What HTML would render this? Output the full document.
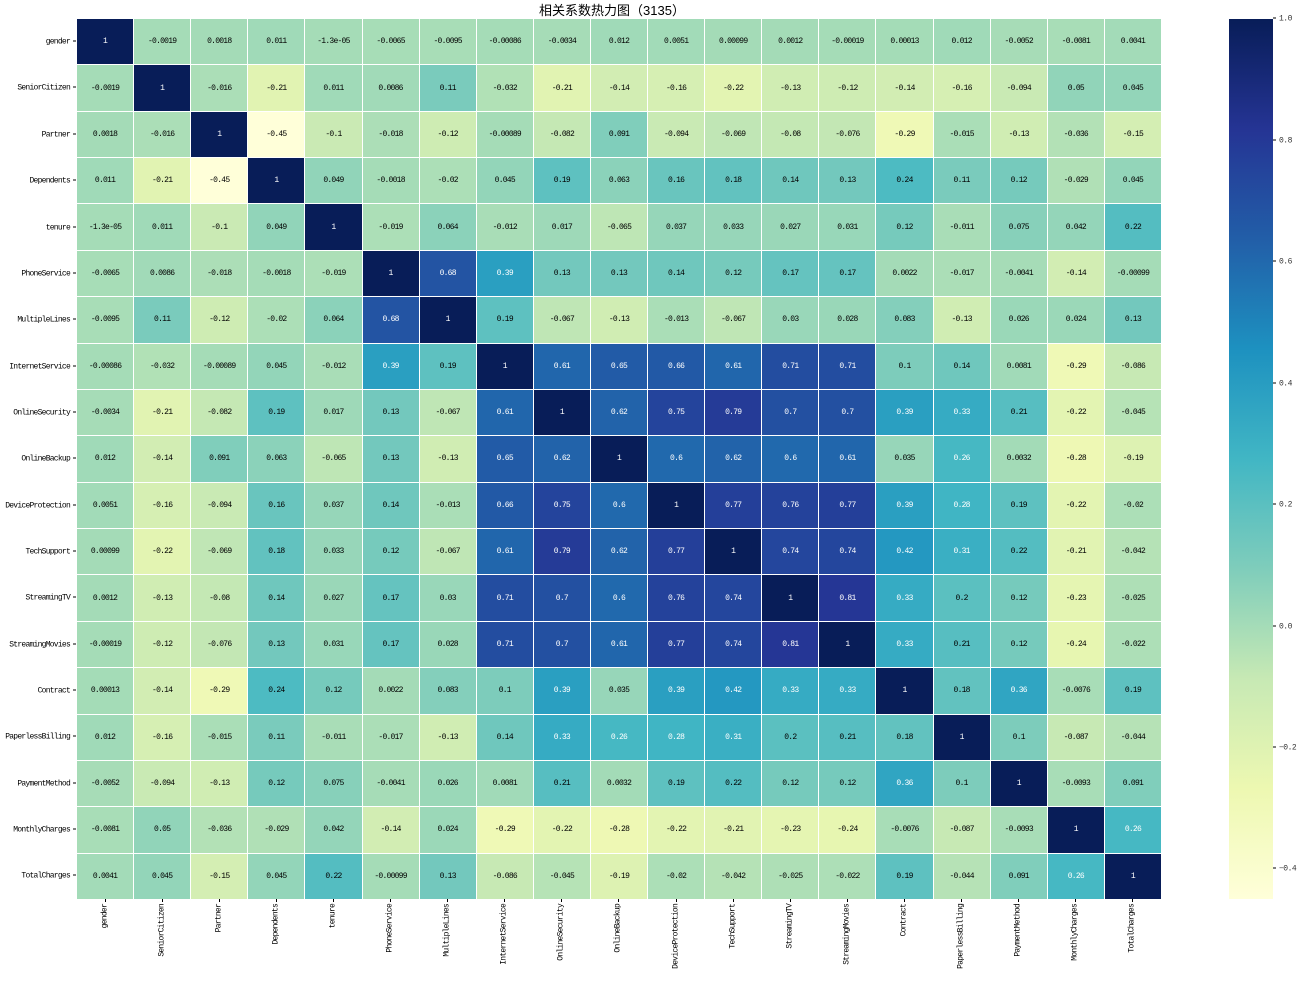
<!DOCTYPE html>
<html><head><meta charset="utf-8"><style>
body{margin:0;width:1306px;height:981px;background:#fff;position:relative;overflow:hidden;font-family:"Liberation Mono","DejaVu Sans Mono",monospace;}
#title{position:absolute;left:0;width:1224px;top:0px;text-align:center;font:13px "Liberation Sans","Noto Sans CJK SC",sans-serif;color:#000;}
#grid{position:absolute;left:77px;top:19px;width:1084px;height:880px;display:grid;grid-template-columns:repeat(19,1fr);grid-template-rows:repeat(19,1fr);gap:1px;background:#fff;}
#grid i{font-style:normal;font-size:8px;letter-spacing:-0.75px;display:flex;align-items:center;justify-content:center;}
.yl{position:absolute;right:1230px;font-size:8px;letter-spacing:-0.75px;text-align:right;white-space:nowrap;transform:translateY(-50%);}
.yl:after{content:"";display:inline-block;width:3px;height:1px;background:#000;margin-left:3px;vertical-align:middle;}
.xl{position:absolute;top:904px;font-size:8px;letter-spacing:-0.75px;white-space:nowrap;transform-origin:0 0;transform:rotate(-90deg) translate(-100%,-50%);}
.xt{position:absolute;top:899px;width:1px;height:3px;background:#000;}
#cb{position:absolute;left:1229px;top:19px;width:44px;height:880px;background:linear-gradient(to top,#ffffd9 0%,#edf8b1 12.5%,#c7e9b4 25%,#7fcdbb 37.5%,#41b6c4 50%,#1d91c0 62.5%,#225ea8 75%,#253494 87.5%,#081d58 100%);}
.ct{position:absolute;left:1273px;font-size:8px;letter-spacing:-0.5px;transform:translateY(-50%);white-space:nowrap;color:#333;}
.ct:before{content:"";display:inline-block;width:3px;height:1px;background:#000;margin-right:3px;vertical-align:middle;}
</style></head><body>
<div id="title">相关系数热力图（3135）</div>
<div id="grid">
<i>1</i><i>-0.0019</i><i>0.0018</i><i>0.011</i><i>-1.3e-05</i><i>-0.0065</i><i>-0.0095</i><i>-0.00086</i><i>-0.0034</i><i>0.012</i><i>0.0051</i><i>0.00099</i><i>0.0012</i><i>-0.00019</i><i>0.00013</i><i>0.012</i><i>-0.0052</i><i>-0.0081</i><i>0.0041</i>
<i>-0.0019</i><i>1</i><i>-0.016</i><i>-0.21</i><i>0.011</i><i>0.0086</i><i>0.11</i><i>-0.032</i><i>-0.21</i><i>-0.14</i><i>-0.16</i><i>-0.22</i><i>-0.13</i><i>-0.12</i><i>-0.14</i><i>-0.16</i><i>-0.094</i><i>0.05</i><i>0.045</i>
<i>0.0018</i><i>-0.016</i><i>1</i><i>-0.45</i><i>-0.1</i><i>-0.018</i><i>-0.12</i><i>-0.00089</i><i>-0.082</i><i>0.091</i><i>-0.094</i><i>-0.069</i><i>-0.08</i><i>-0.076</i><i>-0.29</i><i>-0.015</i><i>-0.13</i><i>-0.036</i><i>-0.15</i>
<i>0.011</i><i>-0.21</i><i>-0.45</i><i>1</i><i>0.049</i><i>-0.0018</i><i>-0.02</i><i>0.045</i><i>0.19</i><i>0.063</i><i>0.16</i><i>0.18</i><i>0.14</i><i>0.13</i><i>0.24</i><i>0.11</i><i>0.12</i><i>-0.029</i><i>0.045</i>
<i>-1.3e-05</i><i>0.011</i><i>-0.1</i><i>0.049</i><i>1</i><i>-0.019</i><i>0.064</i><i>-0.012</i><i>0.017</i><i>-0.065</i><i>0.037</i><i>0.033</i><i>0.027</i><i>0.031</i><i>0.12</i><i>-0.011</i><i>0.075</i><i>0.042</i><i>0.22</i>
<i>-0.0065</i><i>0.0086</i><i>-0.018</i><i>-0.0018</i><i>-0.019</i><i>1</i><i>0.68</i><i>0.39</i><i>0.13</i><i>0.13</i><i>0.14</i><i>0.12</i><i>0.17</i><i>0.17</i><i>0.0022</i><i>-0.017</i><i>-0.0041</i><i>-0.14</i><i>-0.00099</i>
<i>-0.0095</i><i>0.11</i><i>-0.12</i><i>-0.02</i><i>0.064</i><i>0.68</i><i>1</i><i>0.19</i><i>-0.067</i><i>-0.13</i><i>-0.013</i><i>-0.067</i><i>0.03</i><i>0.028</i><i>0.083</i><i>-0.13</i><i>0.026</i><i>0.024</i><i>0.13</i>
<i>-0.00086</i><i>-0.032</i><i>-0.00089</i><i>0.045</i><i>-0.012</i><i>0.39</i><i>0.19</i><i>1</i><i>0.61</i><i>0.65</i><i>0.66</i><i>0.61</i><i>0.71</i><i>0.71</i><i>0.1</i><i>0.14</i><i>0.0081</i><i>-0.29</i><i>-0.086</i>
<i>-0.0034</i><i>-0.21</i><i>-0.082</i><i>0.19</i><i>0.017</i><i>0.13</i><i>-0.067</i><i>0.61</i><i>1</i><i>0.62</i><i>0.75</i><i>0.79</i><i>0.7</i><i>0.7</i><i>0.39</i><i>0.33</i><i>0.21</i><i>-0.22</i><i>-0.045</i>
<i>0.012</i><i>-0.14</i><i>0.091</i><i>0.063</i><i>-0.065</i><i>0.13</i><i>-0.13</i><i>0.65</i><i>0.62</i><i>1</i><i>0.6</i><i>0.62</i><i>0.6</i><i>0.61</i><i>0.035</i><i>0.26</i><i>0.0032</i><i>-0.28</i><i>-0.19</i>
<i>0.0051</i><i>-0.16</i><i>-0.094</i><i>0.16</i><i>0.037</i><i>0.14</i><i>-0.013</i><i>0.66</i><i>0.75</i><i>0.6</i><i>1</i><i>0.77</i><i>0.76</i><i>0.77</i><i>0.39</i><i>0.28</i><i>0.19</i><i>-0.22</i><i>-0.02</i>
<i>0.00099</i><i>-0.22</i><i>-0.069</i><i>0.18</i><i>0.033</i><i>0.12</i><i>-0.067</i><i>0.61</i><i>0.79</i><i>0.62</i><i>0.77</i><i>1</i><i>0.74</i><i>0.74</i><i>0.42</i><i>0.31</i><i>0.22</i><i>-0.21</i><i>-0.042</i>
<i>0.0012</i><i>-0.13</i><i>-0.08</i><i>0.14</i><i>0.027</i><i>0.17</i><i>0.03</i><i>0.71</i><i>0.7</i><i>0.6</i><i>0.76</i><i>0.74</i><i>1</i><i>0.81</i><i>0.33</i><i>0.2</i><i>0.12</i><i>-0.23</i><i>-0.025</i>
<i>-0.00019</i><i>-0.12</i><i>-0.076</i><i>0.13</i><i>0.031</i><i>0.17</i><i>0.028</i><i>0.71</i><i>0.7</i><i>0.61</i><i>0.77</i><i>0.74</i><i>0.81</i><i>1</i><i>0.33</i><i>0.21</i><i>0.12</i><i>-0.24</i><i>-0.022</i>
<i>0.00013</i><i>-0.14</i><i>-0.29</i><i>0.24</i><i>0.12</i><i>0.0022</i><i>0.083</i><i>0.1</i><i>0.39</i><i>0.035</i><i>0.39</i><i>0.42</i><i>0.33</i><i>0.33</i><i>1</i><i>0.18</i><i>0.36</i><i>-0.0076</i><i>0.19</i>
<i>0.012</i><i>-0.16</i><i>-0.015</i><i>0.11</i><i>-0.011</i><i>-0.017</i><i>-0.13</i><i>0.14</i><i>0.33</i><i>0.26</i><i>0.28</i><i>0.31</i><i>0.2</i><i>0.21</i><i>0.18</i><i>1</i><i>0.1</i><i>-0.087</i><i>-0.044</i>
<i>-0.0052</i><i>-0.094</i><i>-0.13</i><i>0.12</i><i>0.075</i><i>-0.0041</i><i>0.026</i><i>0.0081</i><i>0.21</i><i>0.0032</i><i>0.19</i><i>0.22</i><i>0.12</i><i>0.12</i><i>0.36</i><i>0.1</i><i>1</i><i>-0.0093</i><i>0.091</i>
<i>-0.0081</i><i>0.05</i><i>-0.036</i><i>-0.029</i><i>0.042</i><i>-0.14</i><i>0.024</i><i>-0.29</i><i>-0.22</i><i>-0.28</i><i>-0.22</i><i>-0.21</i><i>-0.23</i><i>-0.24</i><i>-0.0076</i><i>-0.087</i><i>-0.0093</i><i>1</i><i>0.26</i>
<i>0.0041</i><i>0.045</i><i>-0.15</i><i>0.045</i><i>0.22</i><i>-0.00099</i><i>0.13</i><i>-0.086</i><i>-0.045</i><i>-0.19</i><i>-0.02</i><i>-0.042</i><i>-0.025</i><i>-0.022</i><i>0.19</i><i>-0.044</i><i>0.091</i><i>0.26</i><i>1</i>
</div>
<div id="yl">
<div class="yl" style="top:42px">gender</div>
<div class="yl" style="top:88px">SeniorCitizen</div>
<div class="yl" style="top:135px">Partner</div>
<div class="yl" style="top:181px">Dependents</div>
<div class="yl" style="top:228px">tenure</div>
<div class="yl" style="top:274px">PhoneService</div>
<div class="yl" style="top:320px">MultipleLines</div>
<div class="yl" style="top:367px">InternetService</div>
<div class="yl" style="top:413px">OnlineSecurity</div>
<div class="yl" style="top:459px">OnlineBackup</div>
<div class="yl" style="top:506px">DeviceProtection</div>
<div class="yl" style="top:552px">TechSupport</div>
<div class="yl" style="top:598px">StreamingTV</div>
<div class="yl" style="top:645px">StreamingMovies</div>
<div class="yl" style="top:691px">Contract</div>
<div class="yl" style="top:737px">PaperlessBilling</div>
<div class="yl" style="top:784px">PaymentMethod</div>
<div class="yl" style="top:830px">MonthlyCharges</div>
<div class="yl" style="top:876px">TotalCharges</div>
</div>
<div id="xl">
<div class="xl" style="left:105px">gender</div>
<div class="xl" style="left:162px">SeniorCitizen</div>
<div class="xl" style="left:219px">Partner</div>
<div class="xl" style="left:276px">Dependents</div>
<div class="xl" style="left:333px">tenure</div>
<div class="xl" style="left:390px">PhoneService</div>
<div class="xl" style="left:447px">MultipleLines</div>
<div class="xl" style="left:504px">InternetService</div>
<div class="xl" style="left:561px">OnlineSecurity</div>
<div class="xl" style="left:618px">OnlineBackup</div>
<div class="xl" style="left:676px">DeviceProtection</div>
<div class="xl" style="left:733px">TechSupport</div>
<div class="xl" style="left:790px">StreamingTV</div>
<div class="xl" style="left:847px">StreamingMovies</div>
<div class="xl" style="left:904px">Contract</div>
<div class="xl" style="left:961px">PaperlessBilling</div>
<div class="xl" style="left:1018px">PaymentMethod</div>
<div class="xl" style="left:1075px">MonthlyCharges</div>
<div class="xl" style="left:1132px">TotalCharges</div>
</div>
<div id="cb"></div>
<div class="ct" style="top:19px">1.0</div>
<div class="ct" style="top:141px">0.8</div>
<div class="ct" style="top:262px">0.6</div>
<div class="ct" style="top:384px">0.4</div>
<div class="ct" style="top:505px">0.2</div>
<div class="ct" style="top:627px">0.0</div>
<div class="ct" style="top:748px">−0.2</div>
<div class="ct" style="top:869px">−0.4</div>
<script>
var C=[[255,255,217],[237,248,177],[199,233,180],[127,205,187],[65,182,196],[29,145,192],[34,94,168],[37,52,148],[8,29,88]];
var vmin=-0.449,vmax=1;
function col(v){var t=(v-vmin)/(vmax-vmin);t=Math.max(0,Math.min(1,t))*8;var i=Math.min(7,Math.floor(t)),f=t-i;
return C[i].map(function(c,k){return Math.round(c+(C[i+1][k]-c)*f)});}
function lum(c){var l=c.map(function(x){x/=255;return x<=0.03928?x/12.92:Math.pow((x+0.055)/1.055,2.4)});return 0.2126*l[0]+0.7152*l[1]+0.0722*l[2];}
document.querySelectorAll('#grid i').forEach(function(e){var c=col(parseFloat(e.textContent));e.style.background='rgb('+c.join(',')+')';e.style.color=lum(c)<0.408?'#fff':'#000';});
document.querySelectorAll('.xl').forEach(function(e){var t=document.createElement('div');t.className='xt';t.style.left=e.style.left;document.body.appendChild(t);});
</script>
</body></html>
